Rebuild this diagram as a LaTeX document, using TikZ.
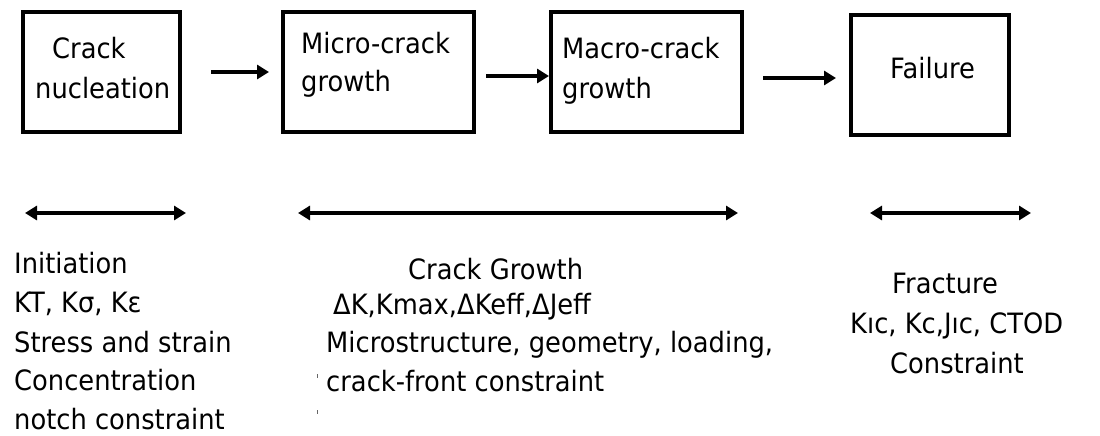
\documentclass[tikz,border=0pt]{standalone}
\usepackage{fontspec}
\setmainfont[FakeStretch=0.92]{DejaVu Sans}
\usetikzlibrary{arrows.meta}
\begin{document}
\begin{tikzpicture}[x=1pt,y=-1pt,
  box/.style={draw=black,line width=3.5pt,inner sep=0pt,minimum height=120pt},
  txt/.style={anchor=base west,inner sep=0pt,font=\fontsize{28}{28}\selectfont},
  arr/.style={line width=3.5pt,-{Triangle[length=12pt,width=14pt]}},
  darr/.style={line width=3.5pt,{Triangle[length=12pt,width=14pt]}-{Triangle[length=12pt,width=14pt]}}]
\useasboundingbox (0,0) rectangle (1100,436);
% boxes
\node[box,minimum width=157pt] (b1) at (101.5,72) {};
\node[box,minimum width=191pt] (b2) at (378.5,72) {};
\node[box,minimum width=191pt] (b3) at (646.5,72) {};
\node[box,minimum width=158pt] (b4) at (930,75) {};
% box texts
\node[txt] (t1a) at (52,59) {Crack};
\node[txt] (t1b) at (35,99) {nucleation};
\node[txt] (t2a) at (301,53) {Micro-crack};
\node[txt] (t2b) at (301,92) {growth};
\node[txt] (t3a) at (562,59) {Macro-crack};
\node[txt] (t3b) at (562,98) {growth};
\node[txt] (t4a) at (890,78) {Failure};
% arrows between boxes
\coordinate (a1s) at (211,72); \coordinate (a1e) at (269,72);
\coordinate (a2s) at (486,76); \coordinate (a2e) at (549,76);
\coordinate (a3s) at (763,78); \coordinate (a3e) at (836,78);
\draw[arr] (a1s) -- (a1e);
\draw[arr] (a2s) -- (a2e);
\draw[arr] (a3s) -- (a3e);
% double arrows
\coordinate (d1s) at (25,213); \coordinate (d1e) at (186,213);
\coordinate (d2s) at (298,213); \coordinate (d2e) at (738,213);
\coordinate (d3s) at (870,213); \coordinate (d3e) at (1031,213);
\draw[darr] (d1s) -- (d1e);
\draw[darr] (d2s) -- (d2e);
\draw[darr] (d3s) -- (d3e);
% left block
\node[txt] (l1) at (14,273) {Initiation};
\node[txt] (l2) at (14,312) {KT, Kσ, Kε};
\node[txt] (l3) at (14,352) {Stress and strain};
\node[txt] (l4) at (14,390) {Concentration};
\node[txt] (l5) at (14,429) {notch constraint};
% middle block
\node[txt] (m1) at (408,279) {Crack Growth};
\node[txt] (m2) at (333,314) {ΔK,Kmax,ΔKeff,ΔJeff};
\node[txt] (m3) at (326,352) {Microstructure, geometry, loading,};
\node[txt] (m4) at (326,391) {crack-front constraint};
\draw[line width=0.8pt,black!60] (317,374) -- (317,378);
\draw[line width=0.8pt,black!60] (317,410) -- (317,414);
% right block
\node[txt] (r1) at (892,293) {Fracture};
\node[txt] (r2) at (850,333) {Kıc, Kc,Jıc, CTOD};
\node[txt] (r3) at (890,373) {Constraint};
\end{tikzpicture}
\end{document}
